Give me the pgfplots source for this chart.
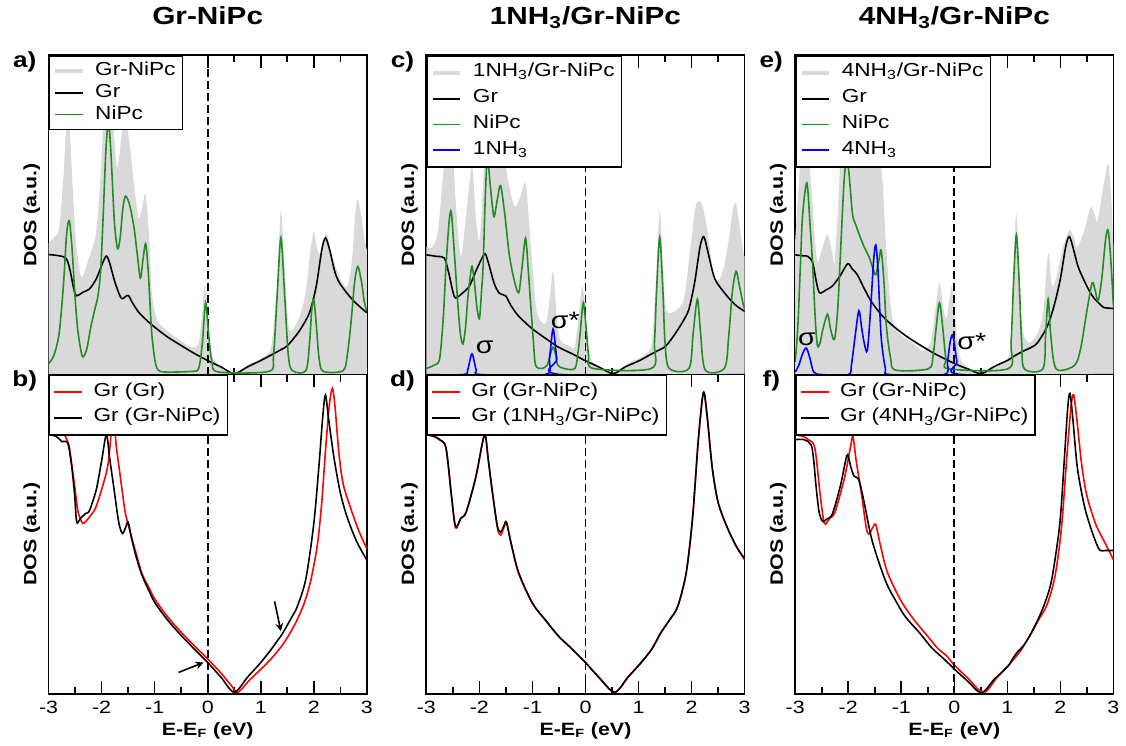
\documentclass[border=0pt]{standalone}
\usepackage{fontspec}
\setmainfont{Liberation Sans}[FakeStretch=1.2]
\usepackage{pgfplots}
\pgfplotsset{compat=1.18}

\definecolor{totgray}{RGB}{217,217,217}
\definecolor{nipc}{RGB}{34,139,34}
\tikzset{sig/.style={font=\fontsize{12}{13}\selectfont}}

\pgfplotsset{
  dos/.style={
    scale only axis, width=160.5pt, height=161pt,
    xmin=-3, xmax=3, ymin=0, ymax=1,
    xtick={-3,...,3}, minor xtick={-2.5,-1.5,...,2.5},
    ytick=\empty, tick align=inside, xtick pos=both,
    major tick length=6.5pt, minor tick length=3.5pt,
    every tick/.style={black, line width=0.8pt},
    axis line style={line width=0.9pt},
    tick label style={font=\fontsize{9}{10}\selectfont},
    /pgf/number format/assume math mode=true,
    ylabel={DOS (a.u.)},
    ylabel style={font=\bfseries\fontsize{9}{10}\selectfont, at={(axis description cs:-0.053,0.5)}, anchor=center},
    legend cell align=left,
    legend style={at={(0,1)}, anchor=north west, font=\fontsize{9.5}{11}\selectfont,
      draw=black, line width=0.8pt, fill=white, inner xsep=2pt, inner ysep=2pt,
      /tikz/column sep=4pt,
      nodes={inner xsep=1.5pt, inner ysep=1.5pt, text height=6.5pt, text depth=1.5pt}},
    legend image code/.code={\draw[##1] (0pt,0pt) -- (14pt,0pt);},
  },
  tall legend/.style={legend style={nodes={text height=7pt, text depth=3pt}}},
  plabel/.style={extra description/.code={
    \node[font=\bfseries\fontsize{11}{12}\selectfont] at (axis description cs:-0.075,0.98) {#1};}},
  top/.style={dos, xticklabels={},
    title style={font=\bfseries\fontsize{12.5}{14}\selectfont, at={(0.5,1)}, anchor=base, yshift=9.5pt}},
  bot/.style={dos, tall legend, xlabel={E-E\textsubscript{F} (eV)},
    xlabel style={font=\bfseries\fontsize{9}{10}\selectfont, at={(axis description cs:0.5,-0.115)}, anchor=center}},
  tot/.style={fill=totgray, draw=none, smooth,
    legend image code/.code={\draw[totgray, line width=1.6pt] (0pt,0pt) -- (14pt,0pt);}},
  gr/.style={black, line width=0.8pt, smooth, tension=0.5},
  pc/.style={nipc, line width=0.8pt, smooth, tension=0.5},
  nh/.style={blue, line width=0.8pt, smooth, tension=0.5},
  ref/.style={red, line width=0.8pt, smooth, tension=0.5},
  ef/.style={black, line width=0.9pt, dash pattern=on 4pt off 2pt},
}

\begin{document}
\begin{tikzpicture}
\path (0,0) rectangle (563pt,374pt);

% ---------- a) Gr-NiPc ----------
\begin{axis}[top, plabel={a)}, title={Gr-NiPc}, at={(24.5pt,186pt)}, anchor=south west]
\addplot[tot] coordinates {
(-3,0.41) (-2.9,0.43) (-2.8,0.46) (-2.72,0.62) (-2.64,0.85) (-2.58,0.7) (-2.5,0.45) (-2.42,0.33)
(-2.36,0.307) (-2.25,0.36) (-2.11,0.44) (-2.02,0.62) (-1.95,0.85) (-1.88,0.95) (-1.8,0.82)
(-1.72,0.66) (-1.68,0.67) (-1.6,0.78) (-1.55,0.8) (-1.47,0.72) (-1.38,0.58) (-1.3,0.49)
(-1.24,0.52) (-1.17,0.564) (-1.1,0.42) (-1.05,0.25) (-0.95,0.17) (-0.75,0.135) (-0.5,0.105)
(-0.3,0.085) (-0.17,0.1) (-0.1,0.2) (-0.06,0.276) (0.0,0.2) (0.07,0.07) (0.2,0.03) (0.5,0.004)
(0.8,0.035) (1.0,0.05) (1.2,0.09) (1.31,0.3) (1.38,0.513) (1.45,0.33) (1.52,0.16) (1.6,0.14)
(1.75,0.19) (1.85,0.26) (1.93,0.38) (2.0,0.446) (2.07,0.39) (2.13,0.379) (2.2,0.43) (2.25,0.44)
(2.35,0.37) (2.5,0.3) (2.63,0.276) (2.72,0.36) (2.78,0.5) (2.83,0.549) (2.9,0.49) (2.96,0.42) (3,0.39)
} \closedcycle;
\addplot[ef, forget plot] coordinates {(0,0) (0,1)};
\addplot[gr] coordinates {
(-3,0.376) (-2.8,0.372) (-2.67,0.364) (-2.6,0.33) (-2.52,0.265) (-2.47,0.247) (-2.35,0.258)
(-2.23,0.268) (-2.1,0.3) (-1.98,0.35) (-1.91,0.371) (-1.85,0.35) (-1.75,0.29) (-1.65,0.245)
(-1.6,0.238) (-1.5,0.248) (-1.42,0.225) (-1.3,0.195) (-1.15,0.17) (-0.99,0.147) (-0.75,0.117)
(-0.49,0.09) (-0.25,0.066) (0,0.044) (0.25,0.024) (0.5,0.003) (0.75,0.024) (1.0,0.044)
(1.25,0.066) (1.38,0.078) (1.5,0.09) (1.7,0.13) (1.85,0.17) (1.94,0.204) (2.05,0.28) (2.15,0.39)
(2.22,0.428) (2.3,0.39) (2.4,0.32) (2.5,0.283) (2.7,0.24) (2.85,0.215) (3,0.194)
};
\addplot[pc] coordinates {
(-3,0.034) (-2.9,0.06) (-2.8,0.13) (-2.72,0.28) (-2.66,0.44) (-2.61,0.482) (-2.56,0.4) (-2.5,0.24)
(-2.45,0.14) (-2.39,0.075) (-2.35,0.055) (-2.28,0.08) (-2.2,0.152) (-2.12,0.21) (-2.08,0.235)
(-2.02,0.32) (-1.97,0.5) (-1.92,0.7) (-1.87,0.79) (-1.82,0.68) (-1.76,0.48) (-1.7,0.394)
(-1.65,0.43) (-1.6,0.52) (-1.55,0.559) (-1.47,0.53) (-1.39,0.461) (-1.33,0.38) (-1.27,0.302)
(-1.22,0.36) (-1.17,0.41) (-1.12,0.32) (-1.06,0.14) (-1.0,0.05) (-0.94,0.015) (-0.8,0.008)
(-0.3,0.01) (-0.17,0.02) (-0.1,0.1) (-0.04,0.225) (0.02,0.12) (0.08,0.04) (0.2,0.008)
(1.15,0.01) (1.24,0.06) (1.31,0.25) (1.38,0.428) (1.45,0.25) (1.52,0.06) (1.6,0.012) (1.85,0.012)
(1.92,0.1) (1.96,0.2) (2.0,0.235) (2.05,0.15) (2.1,0.05) (2.18,0.01) (2.55,0.012) (2.63,0.06)
(2.7,0.16) (2.77,0.29) (2.83,0.338) (2.9,0.29) (2.95,0.23) (3,0.199)
};
\legend{Gr-NiPc, Gr, NiPc}
\end{axis}

% ---------- b) ----------
\begin{axis}[bot, plabel={b)}, at={(24.5pt,25pt)}, anchor=south west]
\addplot[ref] coordinates {
(-3,0.812) (-2.8,0.812) (-2.7,0.81) (-2.62,0.78) (-2.58,0.74) (-2.5,0.64) (-2.45,0.574)
(-2.38,0.54) (-2.33,0.535) (-2.2,0.56) (-2.11,0.584) (-2.0,0.64) (-1.89,0.708) (-1.84,0.78)
(-1.8,0.86) (-1.76,0.84) (-1.72,0.77) (-1.67,0.708) (-1.6,0.62) (-1.55,0.564) (-1.45,0.5)
(-1.35,0.44) (-1.24,0.377) (-1.1,0.33) (-0.99,0.295) (-0.75,0.24) (-0.49,0.191) (-0.25,0.15)
(0,0.109) (0.25,0.065) (0.45,0.025) (0.57,0.005) (0.8,0.045) (1.07,0.088) (1.25,0.12)
(1.44,0.16) (1.65,0.22) (1.82,0.284) (1.95,0.36) (2.07,0.47) (2.15,0.6) (2.22,0.76) (2.29,0.9)
(2.35,0.957) (2.4,0.9) (2.47,0.76) (2.55,0.66) (2.69,0.584) (2.85,0.51) (3,0.455)
};
\addplot[gr] coordinates {
(-3,0.812) (-2.85,0.806) (-2.75,0.79) (-2.64,0.786) (-2.57,0.72) (-2.51,0.626) (-2.47,0.538)
(-2.4,0.55) (-2.3,0.565) (-2.23,0.574) (-2.1,0.64) (-2.0,0.73) (-1.91,0.812) (-1.85,0.74)
(-1.77,0.646) (-1.68,0.54) (-1.61,0.502) (-1.55,0.52) (-1.5,0.538) (-1.44,0.49) (-1.35,0.43)
(-1.24,0.372) (-1.1,0.32) (-0.99,0.284) (-0.75,0.23) (-0.49,0.181) (-0.25,0.14) (0,0.098)
(0.25,0.052) (0.5,0.005) (0.75,0.052) (1.0,0.098) (1.2,0.14) (1.33,0.17) (1.38,0.181)
(1.45,0.2) (1.6,0.245) (1.69,0.274) (1.85,0.36) (2.0,0.533) (2.1,0.72) (2.17,0.87) (2.22,0.936)
(2.28,0.86) (2.38,0.74) (2.5,0.63) (2.63,0.553) (2.8,0.48) (3,0.419)
};
\addplot[ef, forget plot] coordinates {(0,0) (0,1)};
\draw[-stealth, line width=0.8pt] (axis cs:-0.55,0.067) -- (axis cs:-0.08,0.098);
\draw[-stealth, line width=0.8pt] (axis cs:1.26,0.29) -- (axis cs:1.38,0.196);
\legend{Gr (Gr), Gr (Gr-NiPc)}
\end{axis}

% ---------- c) 1NH3/Gr-NiPc ----------
\begin{axis}[top, tall legend, plabel={c)}, title={1NH\textsubscript{3}/Gr-NiPc}, at={(215pt,186pt)}, anchor=south west]
\addplot[tot] coordinates {
(-3,0.4) (-2.88,0.4) (-2.78,0.45) (-2.7,0.6) (-2.62,0.72) (-2.53,0.78) (-2.45,0.55) (-2.35,0.37)
(-2.25,0.5) (-2.14,0.65) (-2.07,0.5) (-2.0,0.42) (-1.93,0.6) (-1.85,0.85) (-1.78,0.72) (-1.7,0.7)
(-1.6,0.8) (-1.5,0.65) (-1.4,0.56) (-1.32,0.525) (-1.22,0.56) (-1.13,0.6) (-1.06,0.47) (-1.0,0.34)
(-0.92,0.2) (-0.8,0.16) (-0.73,0.17) (-0.66,0.26) (-0.61,0.323) (-0.55,0.2) (-0.48,0.11)
(-0.3,0.09) (-0.2,0.09) (-0.12,0.2) (-0.06,0.277) (0.0,0.2) (0.06,0.07) (0.2,0.03) (0.52,0.004)
(0.8,0.035) (1.1,0.06) (1.25,0.1) (1.33,0.3) (1.4,0.515) (1.47,0.3) (1.53,0.2) (1.7,0.2)
(1.86,0.24) (1.98,0.4) (2.07,0.52) (2.14,0.545) (2.22,0.52) (2.3,0.45) (2.4,0.33) (2.48,0.29)
(2.6,0.33) (2.7,0.42) (2.78,0.52) (2.84,0.535) (2.9,0.47) (2.98,0.38) (3,0.37)
} \closedcycle;
\addplot[ef, forget plot] coordinates {(0,0) (0,1)};
\addplot[gr] coordinates {
(-3,0.375) (-2.8,0.37) (-2.66,0.365) (-2.58,0.32) (-2.5,0.26) (-2.45,0.24) (-2.32,0.255)
(-2.19,0.277) (-2.05,0.33) (-1.95,0.365) (-1.89,0.378) (-1.83,0.35) (-1.72,0.285) (-1.63,0.256)
(-1.55,0.25) (-1.5,0.246) (-1.4,0.215) (-1.26,0.183) (-1.0,0.143) (-0.75,0.113) (-0.51,0.086)
(-0.25,0.065) (-0.01,0.044) (0.25,0.024) (0.52,0.003) (0.75,0.024) (1.02,0.044) (1.25,0.065)
(1.4,0.078) (1.52,0.09) (1.7,0.13) (1.85,0.17) (1.95,0.205) (2.06,0.29) (2.16,0.4) (2.23,0.432)
(2.3,0.39) (2.4,0.32) (2.48,0.287) (2.7,0.24) (2.85,0.215) (3,0.198)
};
\addplot[pc] coordinates {
(-3,0.019) (-2.85,0.03) (-2.75,0.05) (-2.68,0.18) (-2.63,0.339) (-2.57,0.48) (-2.53,0.509)
(-2.48,0.4) (-2.41,0.23) (-2.36,0.13) (-2.31,0.096) (-2.26,0.15) (-2.22,0.236) (-2.17,0.31)
(-2.14,0.339) (-2.1,0.3) (-2.05,0.215) (-2.0,0.174) (-1.96,0.26) (-1.93,0.339) (-1.89,0.55)
(-1.85,0.68) (-1.8,0.6) (-1.75,0.52) (-1.72,0.494) (-1.66,0.55) (-1.6,0.592) (-1.52,0.5)
(-1.44,0.38) (-1.35,0.3) (-1.26,0.256) (-1.2,0.33) (-1.13,0.427) (-1.08,0.33) (-1.04,0.236)
(-0.98,0.1) (-0.94,0.029) (-0.82,0.019) (-0.72,0.03) (-0.66,0.065) (-0.61,0.086) (-0.56,0.06)
(-0.52,0.029) (-0.4,0.019) (-0.2,0.019) (-0.14,0.07) (-0.1,0.13) (-0.04,0.225) (0.02,0.13)
(0.06,0.06) (0.15,0.019) (1.24,0.019) (1.3,0.1) (1.34,0.26) (1.4,0.43) (1.46,0.26) (1.5,0.1)
(1.58,0.019) (1.95,0.019) (2.03,0.13) (2.11,0.236) (2.17,0.13) (2.26,0.014) (2.62,0.02)
(2.7,0.12) (2.77,0.26) (2.84,0.323) (2.9,0.28) (2.98,0.215) (3,0.21)
};
\addplot[nh] coordinates {
(-3,0) (-2.3,0) (-2.22,0.015) (-2.14,0.065) (-2.06,0.015) (-1.98,0) (-0.76,0) (-0.68,0.05)
(-0.61,0.143) (-0.54,0.05) (-0.46,0) (3,0)
};
\node[sig] at (axis cs:-1.9,0.084) {σ};
\node[sig] at (axis cs:-0.38,0.17) {σ*};
\legend{1NH\textsubscript{3}/Gr-NiPc, Gr, NiPc, 1NH\textsubscript{3}}
\end{axis}

% ---------- d) ----------
\begin{axis}[bot, plabel={d)}, at={(215pt,25pt)}, anchor=south west]
\addplot[ref] coordinates {
(-3,0.812) (-2.85,0.806) (-2.75,0.796) (-2.63,0.77) (-2.53,0.626) (-2.45,0.52) (-2.35,0.55)
(-2.25,0.569) (-2.07,0.677) (-1.95,0.78) (-1.89,0.812) (-1.83,0.73) (-1.75,0.626) (-1.66,0.52)
(-1.6,0.497) (-1.54,0.52) (-1.49,0.535) (-1.4,0.47) (-1.26,0.377) (-1.0,0.284) (-0.75,0.23)
(-0.51,0.181) (-0.25,0.14) (0,0.098) (0.25,0.052) (0.55,0.005) (0.8,0.052) (1.05,0.098)
(1.25,0.14) (1.42,0.191) (1.6,0.235) (1.74,0.274) (1.9,0.38) (2.02,0.553) (2.12,0.78)
(2.2,0.92) (2.24,0.941) (2.3,0.86) (2.39,0.708) (2.5,0.6) (2.67,0.522) (2.85,0.46) (3,0.42)
};
\addplot[gr] coordinates {
(-3,0.812) (-2.85,0.806) (-2.75,0.796) (-2.63,0.77) (-2.53,0.626) (-2.45,0.524) (-2.35,0.55)
(-2.25,0.569) (-2.07,0.677) (-1.95,0.78) (-1.89,0.812) (-1.83,0.73) (-1.75,0.626) (-1.66,0.525)
(-1.6,0.507) (-1.54,0.525) (-1.49,0.538) (-1.4,0.47) (-1.26,0.38) (-1.0,0.284) (-0.75,0.23)
(-0.51,0.181) (-0.25,0.14) (0,0.098) (0.25,0.052) (0.55,0.005) (0.8,0.052) (1.05,0.098)
(1.25,0.14) (1.42,0.191) (1.6,0.235) (1.74,0.274) (1.9,0.38) (2.02,0.553) (2.12,0.78)
(2.2,0.92) (2.24,0.941) (2.3,0.86) (2.39,0.708) (2.5,0.6) (2.67,0.522) (2.85,0.46) (3,0.424)
};
\addplot[ef, forget plot] coordinates {(0,0) (0,1)};
\legend{Gr (Gr-NiPc), Gr (1NH\textsubscript{3}/Gr-NiPc)}
\end{axis}

% ---------- e) 4NH3/Gr-NiPc ----------
\begin{axis}[top, tall legend, plabel={e)}, title={4NH\textsubscript{3}/Gr-NiPc}, at={(401pt,186pt)}, anchor=south west]
\addplot[tot] coordinates {
(-3,0.42) (-2.95,0.55) (-2.88,0.7) (-2.78,0.72) (-2.7,0.6) (-2.64,0.45) (-2.58,0.354) (-2.48,0.4)
(-2.39,0.44) (-2.3,0.38) (-2.26,0.35) (-2.2,0.5) (-2.12,0.75) (-2.0,0.85) (-1.8,0.8) (-1.6,0.78)
(-1.45,0.75) (-1.35,0.6) (-1.3,0.44) (-1.22,0.25) (-1.15,0.16) (-1.05,0.13) (-0.8,0.1)
(-0.6,0.075) (-0.45,0.1) (-0.36,0.2) (-0.28,0.287) (-0.2,0.2) (-0.14,0.18) (-0.05,0.277)
(0.02,0.17) (0.1,0.06) (0.2,0.03) (0.51,0.005) (0.8,0.03) (1.01,0.05) (1.08,0.15) (1.13,0.4)
(1.17,0.504) (1.22,0.35) (1.28,0.15) (1.4,0.1) (1.57,0.13) (1.68,0.2) (1.77,0.38) (1.84,0.28)
(1.92,0.3) (2.05,0.4) (2.17,0.452) (2.25,0.43) (2.32,0.4) (2.45,0.45) (2.57,0.525) (2.65,0.5)
(2.7,0.48) (2.8,0.58) (2.9,0.66) (2.96,0.55) (3,0.39)
} \closedcycle;
\addplot[ef, forget plot] coordinates {(0,0) (0,1)};
\addplot[gr] coordinates {
(-3,0.375) (-2.85,0.372) (-2.76,0.37) (-2.67,0.35) (-2.6,0.29) (-2.54,0.256) (-2.42,0.265)
(-2.3,0.277) (-2.15,0.31) (-2.01,0.347) (-1.92,0.33) (-1.83,0.313) (-1.7,0.27) (-1.55,0.225)
(-1.3,0.174) (-0.92,0.122) (-0.42,0.07) (0.01,0.034) (0.25,0.018) (0.51,0.003) (0.75,0.025)
(1.01,0.045) (1.15,0.06) (1.32,0.075) (1.45,0.085) (1.57,0.1) (1.75,0.15) (1.88,0.215) (2.0,0.3)
(2.1,0.4) (2.17,0.432) (2.25,0.39) (2.33,0.34) (2.41,0.308) (2.52,0.27) (2.63,0.24) (2.75,0.22)
(2.82,0.21) (3,0.207)
};
\addplot[pc] coordinates {
(-3,0.04) (-2.95,0.15) (-2.9,0.35) (-2.86,0.5) (-2.78,0.6) (-2.72,0.47) (-2.67,0.34) (-2.62,0.17)
(-2.58,0.09) (-2.53,0.1) (-2.48,0.14) (-2.39,0.189) (-2.33,0.14) (-2.26,0.11) (-2.2,0.2)
(-2.14,0.4) (-2.08,0.6) (-2.03,0.68) (-1.98,0.62) (-1.92,0.504) (-1.86,0.47) (-1.8,0.442)
(-1.7,0.4) (-1.61,0.37) (-1.53,0.33) (-1.48,0.313) (-1.42,0.36) (-1.38,0.39) (-1.33,0.3)
(-1.28,0.15) (-1.2,0.05) (-1.11,0.014) (-0.49,0.018) (-0.4,0.06) (-0.34,0.15) (-0.28,0.225)
(-0.22,0.15) (-0.16,0.05) (-0.11,0.018) (1.01,0.018) (1.07,0.1) (1.12,0.3) (1.17,0.437)
(1.22,0.3) (1.27,0.1) (1.32,0.018) (1.67,0.018) (1.72,0.12) (1.77,0.236) (1.82,0.12)
(1.92,0.018) (2.26,0.028) (2.38,0.08) (2.5,0.2) (2.6,0.287) (2.66,0.26) (2.71,0.23) (2.78,0.3)
(2.85,0.42) (2.9,0.452) (2.95,0.36) (3,0.215)
};
\addplot[nh] coordinates {
(-3,0.008) (-2.93,0.03) (-2.86,0.065) (-2.79,0.083) (-2.72,0.05) (-2.65,0.008) (-2.5,0) (-2.0,0)
(-1.94,0.03) (-1.87,0.12) (-1.8,0.2) (-1.75,0.15) (-1.7,0.1) (-1.64,0.075) (-1.58,0.2)
(-1.52,0.36) (-1.48,0.406) (-1.44,0.33) (-1.38,0.12) (-1.3,0.02) (-1.22,0) (-0.2,0) (-0.13,0.04)
(-0.08,0.1) (-0.04,0.124) (0.0,0.1) (0.05,0.04) (0.14,0) (3,0)
};
\node[sig] at (axis cs:-2.78,0.11) {σ};
\node[sig] at (axis cs:0.33,0.103) {σ*};
\legend{4NH\textsubscript{3}/Gr-NiPc, Gr, NiPc, 4NH\textsubscript{3}}
\end{axis}

% ---------- f) ----------
\begin{axis}[bot, plabel={f)}, at={(401pt,25pt)}, anchor=south west]
\addplot[ref] coordinates {
(-3,0.812) (-2.85,0.806) (-2.75,0.796) (-2.63,0.77) (-2.53,0.626) (-2.45,0.534) (-2.35,0.55)
(-2.25,0.569) (-2.07,0.677) (-1.95,0.78) (-1.91,0.806) (-1.85,0.73) (-1.75,0.626) (-1.66,0.52)
(-1.61,0.5) (-1.54,0.52) (-1.48,0.53) (-1.4,0.47) (-1.26,0.38) (-1.0,0.29) (-0.75,0.23)
(-0.5,0.18) (-0.3,0.14) (-0.15,0.12) (0,0.09) (0.25,0.05) (0.55,0.004) (0.8,0.05) (1.05,0.095)
(1.25,0.135) (1.45,0.19) (1.6,0.235) (1.75,0.28) (1.9,0.37) (2.02,0.52) (2.12,0.74) (2.2,0.9)
(2.25,0.936) (2.31,0.86) (2.4,0.72) (2.5,0.62) (2.67,0.53) (2.85,0.47) (3,0.42)
};
\addplot[gr] coordinates {
(-3,0.796) (-2.83,0.796) (-2.7,0.78) (-2.65,0.73) (-2.61,0.656) (-2.55,0.57) (-2.48,0.54)
(-2.4,0.548) (-2.3,0.563) (-2.15,0.65) (-2.05,0.73) (-2.01,0.749) (-1.95,0.71) (-1.89,0.682)
(-1.8,0.67) (-1.7,0.6) (-1.55,0.48) (-1.3,0.355) (-1.1,0.29) (-0.92,0.241) (-0.65,0.19)
(-0.42,0.143) (-0.2,0.11) (0.01,0.076) (0.25,0.04) (0.51,0.003) (0.75,0.045) (1.01,0.086)
(1.1,0.11) (1.2,0.133) (1.3,0.15) (1.45,0.19) (1.65,0.26) (1.82,0.345) (1.95,0.48) (2.01,0.573)
(2.08,0.75) (2.14,0.9) (2.18,0.941) (2.23,0.87) (2.32,0.708) (2.45,0.59) (2.57,0.521)
(2.68,0.47) (2.75,0.449) (2.85,0.449) (3,0.449)
};
\addplot[ef, forget plot] coordinates {(0,0) (0,1)};
\legend{Gr (Gr-NiPc), Gr (4NH\textsubscript{3}/Gr-NiPc)}
\end{axis}
\end{tikzpicture}
\end{document}
